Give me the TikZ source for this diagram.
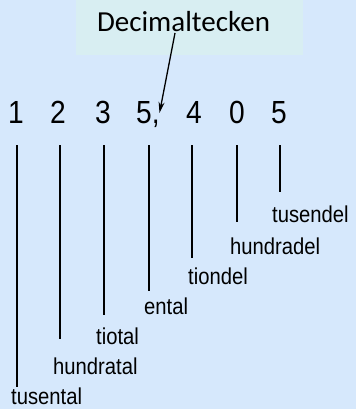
\documentclass[tikz,border=0pt]{standalone}
\usepackage{fontspec}
\setmainfont{Liberation Sans}
\newfontfamily\narrowsans[FakeStretch=0.88]{Liberation Sans}
\newfontfamily\calib{Carlito}
\usetikzlibrary{arrows.meta}
\definecolor{bgblue}{HTML}{D6E8FC}
\definecolor{boxcol}{HTML}{D8EEF2}
\begin{document}
\begin{tikzpicture}[x=1pt,y=-1pt,
  digit/.style={font=\narrowsans\fontsize{32}{32}\selectfont, anchor=base, inner sep=0pt},
  lbl/.style={font=\narrowsans\fontsize{23}{23}\selectfont, anchor=base west, inner sep=0pt},
  tick/.style={line width=1.4pt, black},
  pointer/.style={line width=1.3pt, -{Stealth[length=11pt,width=6pt]}}]
\fill[bgblue] (0,0) rectangle (356,409);
\useasboundingbox (0,0) rectangle (356,409);
\fill[boxcol] (76,0) rectangle (303,55);
\node[font=\calib\fontsize{29}{29}\selectfont, anchor=base, inner sep=0pt] (dec) at (183.5,32) {Decimaltecken};
% digits
\node[digit] (d1) at (16,123) {1};
\node[digit] (d2) at (58,123) {2};
\node[digit] (d3) at (103,123) {3};
\node[digit,anchor=base west] (d4) at (136,123) {5,};
\node[digit] (d5) at (194,123) {4};
\node[digit] (d6) at (237,123) {0};
\node[digit] (d7) at (279,123) {5};
\coordinate (astart) at (175,33);
\coordinate (aend) at (159.5,113);
\draw[pointer] (astart) -- (aend);
% labels
\node[lbl] (l7) at (272,222) {tusendel};
\node[lbl] (l6) at (230,254) {hundradel};
\node[lbl] (l5) at (188,284) {tiondel};
\node[lbl] (l4) at (144,314) {ental};
\node[lbl] (l3) at (96,344) {tiotal};
\node[lbl] (l2) at (53,374) {hundratal};
\node[lbl] (l1) at (11,404) {tusental};
% ticks
\foreach \i/\x/\yb in {1/17/387, 2/60/339, 3/104/315, 4/149/291, 5/192/258, 6/237/222, 7/280/192}{
  \coordinate (t\i) at (\x,145);
  \coordinate (b\i) at (\x,\yb);
  \draw[tick] (t\i) -- (b\i);
}
\end{tikzpicture}
\end{document}
